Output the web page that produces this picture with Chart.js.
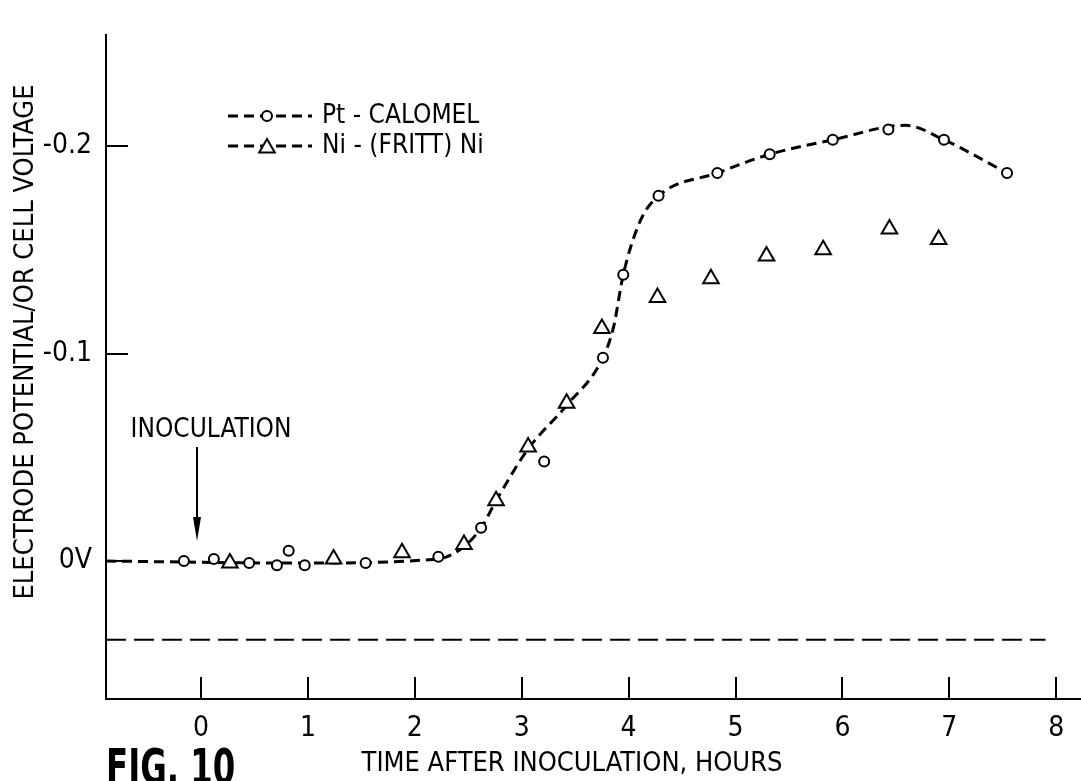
<!DOCTYPE html>
<html>
<head>
<meta charset="utf-8">
<script src="https://cdn.jsdelivr.net/npm/chart.js@4.4.1/dist/chart.umd.min.js"></script>
<style>
  html, body { margin: 0; padding: 0; background: #fff; overflow: hidden; }
  #wrap { width: 1081px; height: 781px; position: relative; }
</style>
</head>
<body>
<div id="wrap"><canvas id="chart"></canvas></div>
<script>
// Valeurs (heures après inoculation, volts)
// Pt - calomel : cercles
const ptHours = [-0.16, 0.12, 0.45, 0.71, 0.82, 0.97, 1.54, 2.22, 2.62, 3.21, 3.76, 3.95, 4.28, 4.83, 5.32, 5.91, 6.43, 6.95, 7.54];
const ptVolts = [0.000, -0.001, 0.001, 0.002, -0.005, 0.002, 0.001, -0.002, -0.016, -0.048, -0.098, -0.138, -0.176, -0.187, -0.196, -0.203, -0.208, -0.203, -0.187];
// courbe tracée à la main (tirets), relevée le long du trait
const curveHours = [-0.889, 0.90, 2.22, 2.46, 2.62, 2.76, 3.06, 3.42, 3.76, 3.86, 3.95, 4.11, 4.28, 4.83, 5.32, 5.91, 6.59, 6.95, 7.54];
const curveVolts = [0, 0.001, -0.001, -0.007, -0.016, -0.029, -0.054, -0.075, -0.098, -0.113, -0.138, -0.164, -0.176, -0.187, -0.196, -0.203, -0.210, -0.203, -0.187];
// Ni - (fritt) Ni : triangles
const niHours = [0.27, 1.24, 1.88, 2.46, 2.76, 3.06, 3.42, 3.75, 4.27, 4.77, 5.29, 5.82, 6.44, 6.90];
const niVolts = [0.001, -0.001, -0.004, -0.008, -0.029, -0.055, -0.076, -0.112, -0.127, -0.136, -0.147, -0.150, -0.160, -0.155];
// ligne de base en tirets longs
const baseHours = [-0.889, 7.90];
const baseVolts = [0.038, 0.038];

const xTicks = [0, 1, 2, 3, 4, 5, 6, 7, 8];
const yTicks = [-0.2, -0.1, 0];
const yTickLabels = ['-0.2', '-0.1', '0V'];

const seriesLabels = ['Pt - CALOMEL', 'Ni - (FRITT) Ni'];
const xTitle = 'TIME AFTER INOCULATION, HOURS';
const yTitle = 'ELECTRODE POTENTIAL/OR CELL VOLTAGE';
const noteText = 'INOCULATION';
const figText = 'FIG. 10';

const FONT = '"Liberation Sans Narrow", "DejaVu Sans Condensed", "Liberation Sans", sans-serif';
Chart.defaults.font.family = FONT;
Chart.defaults.color = '#000';

const toPoints = (xs, ys) => xs.map((v, i) => ({ x: v, y: ys[i] }));

function drawMarker(ctx, style, x, y) {
    ctx.save();
    ctx.lineWidth = 2;
    ctx.strokeStyle = '#000';
    ctx.fillStyle = '#fff';
    ctx.setLineDash([]);
    ctx.beginPath();
    if (style === 'triangle') {
        const r = 9;
        ctx.moveTo(x, y - r);
        ctx.lineTo(x + r * Math.sin(Math.PI / 3), y + r / 2);
        ctx.lineTo(x - r * Math.sin(Math.PI / 3), y + r / 2);
        ctx.closePath();
    } else {
        ctx.arc(x, y, 5, 0, Math.PI * 2);
    }
    ctx.fill();
    ctx.stroke();
    ctx.restore();
}

// Graduations intérieures, légende, annotations et titres
const figureDecor = {
    id: 'figureDecor',
    afterDraw(chart) {
        const { ctx, chartArea, scales: { x, y } } = chart;
        ctx.save();
        ctx.strokeStyle = '#000';
        ctx.fillStyle = '#000';
        ctx.lineWidth = 2;

        // graduations tournées vers l'intérieur
        xTicks.forEach(v => {
            const px = Math.round(x.getPixelForValue(v));
            ctx.beginPath();
            ctx.moveTo(px, chartArea.bottom);
            ctx.lineTo(px, chartArea.bottom - 22);
            ctx.stroke();
        });
        yTicks.forEach(v => {
            const py = Math.round(y.getPixelForValue(v));
            ctx.beginPath();
            ctx.moveTo(chartArea.left, py);
            ctx.lineTo(chartArea.left + 22, py);
            ctx.stroke();
        });

        // légende
        const rows = [116, 146];
        const styles = ['circle', 'triangle'];
        [0, 1].forEach(i => {
            const ry = rows[i];
            ctx.save();
            ctx.lineWidth = 3;
            ctx.setLineDash([10, 6]);
            ctx.beginPath();
            ctx.moveTo(228, ry);
            ctx.lineTo(312, ry);
            ctx.stroke();
            ctx.restore();
            drawMarker(ctx, styles[i], 267, ry + (styles[i] === 'triangle' ? 2 : 0));
            ctx.font = '26px ' + FONT;
            ctx.textBaseline = 'middle';
            ctx.textAlign = 'left';
            ctx.fillText(seriesLabels[i], 322, ry);
        });

        // flèche d'inoculation
        const ax = Math.round(x.getPixelForValue(0)) - 4;
        const tipY = y.getPixelForValue(0) - 20;
        ctx.beginPath();
        ctx.moveTo(ax, 447);
        ctx.lineTo(ax, tipY - 18);
        ctx.stroke();
        ctx.beginPath();
        ctx.moveTo(ax - 4, tipY - 24);
        ctx.lineTo(ax + 4, tipY - 24);
        ctx.lineTo(ax, tipY);
        ctx.closePath();
        ctx.fill();
        ctx.font = '26px ' + FONT;
        ctx.textAlign = 'center';
        ctx.textBaseline = 'middle';
        ctx.fillText(noteText, ax + 14, 430);

        // titres des axes
        ctx.font = '27px ' + FONT;
        ctx.fillText(xTitle, 572, 764);
        ctx.save();
        ctx.translate(26, 342);
        ctx.rotate(-Math.PI / 2);
        ctx.fillText(yTitle, 0, 0);
        ctx.restore();

        // numéro de figure (coupé en bas)
        ctx.save();
        ctx.translate(106, 746);
        ctx.scale(0.72, 1);
        ctx.font = 'bold 50px ' + FONT;
        ctx.textAlign = 'left';
        ctx.textBaseline = 'top';
        ctx.fillText(figText, 0, 0);
        ctx.restore();

        ctx.restore();
    }
};

const ctx = document.getElementById('chart').getContext('2d');
new Chart(ctx, {
    type: 'scatter',
    data: {
        datasets: [
            {
                label: seriesLabels[0],
                data: toPoints(ptHours, ptVolts),
                showLine: false,
                pointStyle: 'circle',
                pointRadius: 5,
                pointBorderWidth: 2,
                pointBorderColor: '#000',
                pointBackgroundColor: '#fff'
            },
            {
                label: seriesLabels[1],
                data: toPoints(niHours, niVolts),
                showLine: false,
                pointStyle: 'triangle',
                pointRadius: 9,
                pointBorderWidth: 2,
                pointBorderColor: '#000',
                pointBackgroundColor: '#fff'
            },
            {
                label: 'courbe',
                data: toPoints(curveHours, curveVolts),
                showLine: true,
                cubicInterpolationMode: 'monotone',
                borderColor: '#000',
                borderWidth: 3,
                borderDash: [10, 6],
                pointRadius: 0,
                order: 1
            },
            {
                label: 'base',
                data: toPoints(baseHours, baseVolts),
                showLine: true,
                borderColor: '#000',
                borderWidth: 2,
                borderDash: [20, 8],
                pointRadius: 0
            }
        ]
    },
    options: {
        responsive: true,
        maintainAspectRatio: false,
        animation: false,
        layout: { autoPadding: false, padding: { top: 35, left: 0, right: 0, bottom: 0 } },
        plugins: {
            legend: { display: false },
            tooltip: { enabled: false }
        },
        scales: {
            x: {
                type: 'linear',
                min: -0.889,
                max: 8.232,
                afterBuildTicks: s => { s.ticks = xTicks.map(v => ({ value: v })); },
                afterFit: s => { s.height = 82; s.paddingLeft = 0; s.paddingRight = 0; },
                grid: { display: false },
                border: { display: true, color: '#000', width: 2 },
                ticks: {
                    padding: 5,
                    maxRotation: 0,
                    autoSkip: false,
                    font: { size: 28 },
                    callback: v => String(v)
                }
            },
            y: {
                type: 'linear',
                reverse: true,
                min: -0.2535,
                max: 0.0665,
                afterBuildTicks: s => { s.ticks = yTicks.map(v => ({ value: v })); },
                afterFit: s => { s.width = 106; s.paddingTop = 0; s.paddingBottom = 0; },
                grid: { display: false },
                border: { display: true, color: '#000', width: 2 },
                ticks: {
                    padding: 6,
                    autoSkip: false,
                    font: { size: 28 },
                    callback: v => yTickLabels[yTicks.indexOf(v)]
                }
            }
        }
    },
    plugins: [figureDecor]
});
</script>
</body>
</html>
